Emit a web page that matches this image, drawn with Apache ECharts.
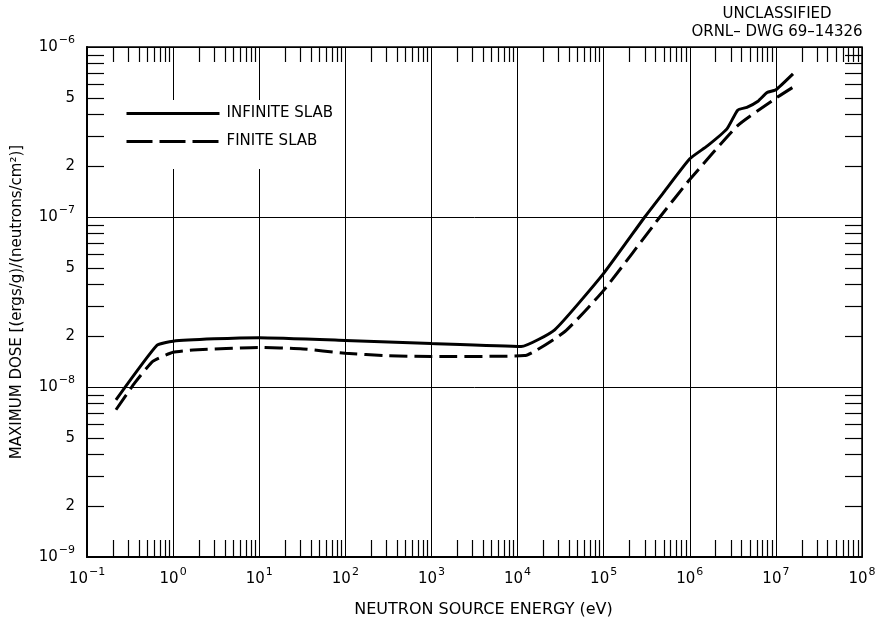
<!DOCTYPE html>
<html>
<head>
<meta charset="utf-8">
<script src="https://cdn.jsdelivr.net/npm/echarts@6/dist/echarts.min.js"></script>
<style>
  html, body { margin: 0; padding: 0; background: #fff; }
  #chart { width: 879px; height: 623px; }
</style>
</head>
<body>
<div id="chart"></div>
<script>
// Infinite slab (solid)
const infiniteEnergy = [0.217, 0.65, 1.0, 3, 10, 100, 1000, 1.1e4, 2.7e4, 1e5, 3e5, 5e5, 1e6, 1.6e6, 2.7e6, 3.6e6, 4.6e6, 6.2e6, 7.9e6, 1e7, 1.58e7];
const infiniteDose = [8.4e-9, 1.76e-8, 1.86e-8, 1.92e-8, 1.95e-8, 1.88e-8, 1.80e-8, 1.73e-8, 2.17e-8, 4.66e-8, 1.0e-7, 1.4e-7, 2.2e-7, 2.62e-7, 3.3e-7, 4.25e-7, 4.42e-7, 4.8e-7, 5.4e-7, 5.6e-7, 6.95e-7];

// Finite slab (dashed)
const finiteEnergy = [0.217, 0.36, 0.585, 1.0, 1.7, 10, 30, 100, 300, 1000, 1.2e4, 3.55e4, 1e5, 4.5e5, 1e6, 3.6e6, 1e7, 1.58e7];
const finiteDose = [7.35e-9, 1.06e-8, 1.42e-8, 1.6e-8, 1.65e-8, 1.71e-8, 1.68e-8, 1.58e-8, 1.53e-8, 1.51e-8, 1.53e-8, 2.12e-8, 3.7e-8, 1.0e-7, 1.66e-7, 3.45e-7, 5.0e-7, 5.8e-7];

// ticks
const xDecades = [1e-1, 1e0, 1e1, 1e2, 1e3, 1e4, 1e5, 1e6, 1e7, 1e8];
const yDecades = [1e-9, 1e-8, 1e-7, 1e-6];
const minorMultipliers = [2, 3, 4, 5, 6, 7, 8, 9];
const yLabelMultipliers = [1, 2, 5];

const minorsOf = (decades) =>
  decades.slice(0, -1).flatMap((d) => minorMultipliers.map((m) => +(m * d).toPrecision(3)));
const xMinor = minorsOf(xDecades);
const yMinor = minorsOf(yDecades);
const yLabelValues = yDecades.flatMap((d, i) =>
  i < yDecades.length - 1 ? yLabelMultipliers.map((m) => +(m * d).toPrecision(3)) : [d]
);

const FONT = 'DejaVu Sans';

const logLabel = (v) => {
  const exp = Math.floor(Math.log10(v) + 1e-9);
  const mant = Math.round(v / Math.pow(10, exp));
  if (mant !== 1) return String(mant);
  return '{b|10}{e|' + (exp < 0 ? '\u2212' + -exp : exp) + '}';
};

const labelRich = {
  b: { fontSize: 15, fontFamily: FONT, color: '#000' },
  e: { fontSize: 11, fontFamily: FONT, color: '#000', padding: [0, 0, 14, 1] },
};

const minorAxis = (position, values, len) => ({
  type: 'log',
  logBase: 10,
  position: position,
  min: position === 'top' || position === 'bottom' ? 1e-1 : 1e-9,
  max: position === 'top' || position === 'bottom' ? 1e8 : 1e-6,
  axisLine: { show: false },
  axisLabel: { show: false },
  splitLine: { show: false },
  axisTick: {
    show: true,
    inside: true,
    length: len,
    customValues: values,
    lineStyle: { color: '#000', width: 1.2 },
  },
});

const chart = echarts.init(document.getElementById('chart'));

chart.setOption({
  animation: false,
  backgroundColor: '#fff',
  grid: {
    left: 87,
    right: 17,
    top: 47,
    bottom: 60,
    show: true,
    borderColor: '#000',
    borderWidth: 1.5,
    backgroundColor: 'transparent',
  },
  graphic: [
    {
      type: 'text',
      x: 777,
      y: 14,
      style: { text: 'UNCLASSIFIED', fontSize: 15, fontFamily: FONT, fill: '#000', align: 'center', verticalAlign: 'middle' },
    },
    {
      type: 'text',
      x: 777,
      y: 32,
      style: { text: 'ORNL\u2013 DWG 69\u201314326', fontSize: 15, fontFamily: FONT, fill: '#000', align: 'center', verticalAlign: 'middle' },
    },
  ],
  legend: {
    orient: 'vertical',
    left: 115,
    top: 100,
    padding: [6, 10, 20, 10],
    itemWidth: 93,
    itemHeight: 14,
    itemGap: 13,
    backgroundColor: '#fff',
    itemStyle: { opacity: 0 },
    textStyle: { fontSize: 15, fontFamily: FONT, color: '#000', padding: [0, 0, 0, 2] },
    data: [
      { name: 'INFINITE SLAB', lineStyle: { width: 3 } },
      { name: 'FINITE SLAB', lineStyle: { width: 3, type: [26, 7] } },
    ],
  },
  xAxis: [
    {
      type: 'log',
      logBase: 10,
      min: 1e-1,
      max: 1e8,
      name: 'NEUTRON SOURCE ENERGY (eV)',
      nameLocation: 'middle',
      nameGap: 45,
      nameTextStyle: { fontSize: 16, fontFamily: FONT, color: '#000', padding: [0, 0, 0, 18] },
      axisLine: { show: true, lineStyle: { color: '#000', width: 2 } },
      axisTick: { show: false },
      axisLabel: {
        margin: 10,
        formatter: logLabel,
        rich: labelRich,
      },
      splitLine: { show: true, lineStyle: { color: '#000', width: 1 } },
    },
    minorAxis('bottom', xMinor, 17),
    minorAxis('top', xMinor, 15),
  ],
  yAxis: [
    {
      type: 'log',
      logBase: 10,
      min: 1e-9,
      max: 1e-6,
      name: 'MAXIMUM DOSE [(ergs/g)/(neutrons/cm\u00b2)]',
      nameLocation: 'middle',
      nameGap: 62,
      nameTextStyle: { fontSize: 15, fontFamily: FONT, color: '#000' },
      axisLine: { show: true, lineStyle: { color: '#000', width: 2 } },
      axisTick: { show: false },
      axisLabel: {
        margin: 12,
        customValues: yLabelValues,
        formatter: logLabel,
        rich: labelRich,
        fontSize: 15,
        fontFamily: FONT,
        color: '#000',
      },
      splitLine: { show: true, lineStyle: { color: '#000', width: 1 } },
    },
    minorAxis('left', yMinor, 17),
    minorAxis('right', yMinor, 17),
  ],
  series: [
    {
      name: 'INFINITE SLAB',
      type: 'line',
      xAxisIndex: 0,
      yAxisIndex: 0,
      symbol: 'none',
      smooth: 0.15,
      lineStyle: { color: '#000', width: 3 },
      itemStyle: { color: '#000' },
      data: infiniteEnergy.map((e, i) => [e, infiniteDose[i]]),
    },
    {
      name: 'FINITE SLAB',
      type: 'line',
      xAxisIndex: 0,
      yAxisIndex: 0,
      symbol: 'none',
      smooth: 0.15,
      lineStyle: { color: '#000', width: 3, type: [18, 7] },
      itemStyle: { color: '#000' },
      data: finiteEnergy.map((e, i) => [e, finiteDose[i]]),
    },
  ],
});
</script>
</body>
</html>
